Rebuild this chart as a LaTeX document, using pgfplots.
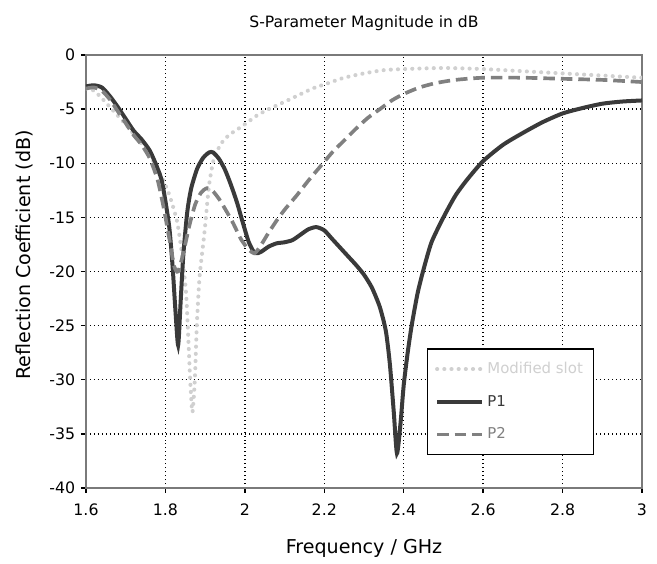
\documentclass[border=0pt]{standalone}
\usepackage{fontspec}
\setmainfont{DejaVu Sans}
\usepackage{pgfplots}
\pgfplotsset{compat=1.18}

\definecolor{slotc}{HTML}{D0D0D0}
\definecolor{p1c}{HTML}{3A3A3A}
\definecolor{p2c}{HTML}{808080}
\definecolor{framec}{HTML}{7A7A7A}

\begin{document}
\begin{tikzpicture}
\begin{axis}[
    scale only axis,
    width=333.6bp, height=259.8bp,
    xmin=1.6, xmax=3, ymin=-40, ymax=0,
    xtick={1.6,1.8,...,3.0},
    ytick={-40,-35,...,0},
    xticklabels={1.6,1.8,2,2.2,2.4,2.6,2.8,3},
    /pgf/number format/assume math mode=true,
    tick label style={font=\fontsize{9.5}{11}\selectfont},
    xticklabel style={yshift=-3bp},
    title={S-Parameter Magnitude in dB},
    title style={font=\fontsize{9.4}{11}\selectfont, at={(0.5,1)}, anchor=base, yshift=10.5bp},
    xlabel={Frequency / GHz},
    ylabel={Reflection Coefficient (dB)},
    xlabel style={font=\fontsize{11.5}{14}\selectfont, at={(axis description cs:0.5,0)}, anchor=base, yshift=-39.5bp},
    ylabel style={font=\fontsize{11.5}{14}\selectfont, at={(axis description cs:-0.111,0.538)}, anchor=center},
    axis line style={framec, line width=1.2bp},
    grid=major, grid style={black, dotted, line width=0.8bp},
    tick style={black, line width=0.8bp},
    tick align=outside, major tick length=3bp,
    xtick pos=bottom, ytick pos=left,
    legend style={at={(0.613,0.323)}, anchor=north west, draw=black,
        line width=0.9bp, font=\fontsize{9}{11}\selectfont,
        row sep=7.5bp, inner xsep=4.5bp, inner ysep=6bp,
        /tikz/every even column/.append style={column sep=3bp}},
    legend cell align=left,
    legend image code/.code={\draw[#1] (0bp,0bp) -- (27bp,0bp);},
]
\addplot[slotc, line width=2.4bp, dash pattern=on 0.1bp off 4.2bp, line cap=round, smooth, tension=0.4] coordinates {
(1.600,-3.1)(1.620,-3.3)(1.640,-4.0)(1.660,-4.8)(1.680,-5.6)(1.700,-6.4)
(1.720,-7.3)(1.740,-8.2)(1.760,-9.2)(1.780,-10.5)(1.800,-12.0)(1.815,-13.5)
(1.830,-15.5)(1.842,-18.5)(1.852,-22.0)(1.858,-26.5)(1.863,-30.5)(1.868,-33.0)
(1.874,-30.0)(1.879,-25.0)(1.886,-20.5)(1.898,-16.5)(1.910,-12.0)(1.922,-9.6)
(1.940,-8.2)(1.960,-7.4)(1.980,-6.9)(2.000,-6.4)(2.030,-5.6)(2.060,-5.0)
(2.090,-4.5)(2.130,-3.8)(2.170,-3.1)(2.210,-2.6)(2.250,-2.1)(2.300,-1.7)
(2.350,-1.4)(2.400,-1.3)(2.500,-1.2)(2.600,-1.3)(2.700,-1.5)(2.800,-1.7)
(2.900,-1.9)(3.000,-2.1)
};
\addlegendentry{\textcolor{slotc}{Modified slot}}
\addplot[p1c, line width=2.4bp, smooth, tension=0.4] coordinates {
(1.600,-2.9)(1.620,-2.8)(1.640,-3.0)(1.660,-3.8)(1.680,-4.8)(1.700,-5.9)
(1.720,-7.0)(1.740,-7.8)(1.760,-8.8)(1.775,-10.0)(1.790,-11.5)(1.800,-13.5)
(1.810,-16.0)(1.818,-19.5)(1.825,-23.5)(1.832,-26.8)(1.838,-23.0)(1.845,-18.5)
(1.855,-14.5)(1.865,-12.3)(1.880,-10.5)(1.895,-9.5)(1.910,-9.0)(1.920,-9.0)
(1.935,-9.6)(1.950,-10.6)(1.965,-12.0)(1.980,-13.6)(1.995,-15.5)(2.010,-17.3)
(2.025,-18.3)(2.040,-18.2)(2.060,-17.7)(2.080,-17.4)(2.100,-17.3)(2.120,-17.1)
(2.140,-16.6)(2.160,-16.1)(2.180,-15.9)(2.200,-16.2)(2.220,-17.0)(2.240,-17.8)
(2.260,-18.6)(2.280,-19.4)(2.300,-20.3)(2.320,-21.5)(2.340,-23.3)(2.355,-25.5)
(2.365,-28.5)(2.375,-33.0)(2.383,-36.8)(2.392,-34.0)(2.400,-30.5)(2.410,-27.5)
(2.420,-25.0)(2.435,-22.0)(2.450,-19.8)(2.470,-17.3)(2.500,-15.0)(2.530,-13.0)
(2.560,-11.5)(2.600,-9.8)(2.650,-8.3)(2.700,-7.2)(2.750,-6.2)(2.800,-5.4)
(2.850,-4.9)(2.900,-4.5)(2.950,-4.3)(3.000,-4.2)
};
\addlegendentry{\textcolor{p1c}{P1}}
\addplot[p2c, line width=2.2bp, dash pattern=on 7bp off 3.5bp, smooth, tension=0.4] coordinates {
(1.600,-3.1)(1.620,-3.0)(1.640,-3.3)(1.660,-4.1)(1.680,-5.2)(1.700,-6.3)
(1.720,-7.4)(1.740,-8.3)(1.760,-9.5)(1.780,-11.5)(1.795,-14.0)(1.810,-17.0)
(1.822,-19.5)(1.832,-20.0)(1.845,-18.3)(1.860,-15.8)(1.875,-13.8)(1.890,-12.7)
(1.905,-12.3)(1.920,-12.6)(1.935,-13.3)(1.950,-14.2)(1.970,-15.5)(1.990,-17.0)
(2.010,-18.0)(2.025,-18.3)(2.040,-17.6)(2.060,-16.4)(2.080,-15.3)(2.100,-14.3)
(2.130,-13.0)(2.160,-11.6)(2.190,-10.3)(2.220,-9.0)(2.250,-7.9)(2.280,-6.8)
(2.310,-5.8)(2.340,-5.0)(2.370,-4.2)(2.400,-3.6)(2.440,-3.0)(2.480,-2.6)
(2.530,-2.3)(2.600,-2.1)(2.700,-2.1)(2.800,-2.2)(2.900,-2.3)(3.000,-2.5)
};
\addlegendentry{\textcolor{p2c}{P2}}
\end{axis}
\path[use as bounding box] (-51.6bp,-42.6bp) rectangle (342.6bp,292.8bp);
\end{tikzpicture}
\end{document}
